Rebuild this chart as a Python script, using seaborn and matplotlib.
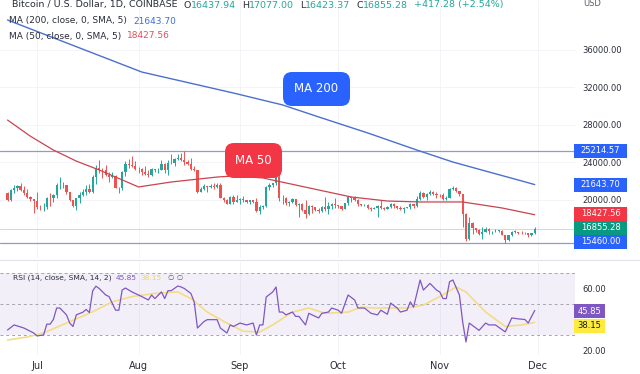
import numpy as np
import pandas as pd
import matplotlib
matplotlib.use("Agg")
import matplotlib.pyplot as plt
from matplotlib.patches import Rectangle, FancyBboxPatch
from matplotlib.transforms import IdentityTransform
from matplotlib.lines import Line2D
import seaborn as sns

# ---------------- data ----------------
START = "2022-06-22"
first_open = 20720.0
closes = [
    19970, 21100, 21230, 21500, 21030, 20730, 20280, 20100, 19930,
    19300, 19250, 19300, 20230, 20200, 20550, 21600, 21600, 21590, 20850, 19970, 19330, 20220, 20580, 20830, 21200,
    20800, 22430, 23400, 23230, 23150, 22680, 22450, 22580, 21310, 21250, 22950, 23850, 23780, 23640, 23300,
    23270, 22990, 22820, 22620, 23310, 23180, 23180, 23810, 23160, 23950, 23940, 24400, 24440, 24300, 24100,
    23850, 23340, 23200, 20830, 21140, 21520, 21400, 21530, 21370, 21570, 20240, 20040, 19550, 20290, 19800, 20050,
    20130, 19950, 19830, 19990, 19800, 18790, 19290, 19320, 21360, 21650, 21830, 22400, 20170, 20230, 19700,
    19800, 20110, 19420, 19540, 18880, 18480, 19400, 19300, 18930, 18800, 19220, 19080, 19410, 19590, 19420,
    19310, 19060, 19630, 20340, 20160, 19960, 19530, 19420, 19450, 19130, 19060, 19160, 19380, 19180, 19070,
    19260, 19550, 19330, 19130, 19040, 19170, 19200, 19570, 19330, 20090, 20770, 20290, 20600, 20820, 20630, 20490,
    20480, 20150, 20210, 21150, 21300, 20920, 20600, 18540, 15880, 17590, 17040, 16800, 16350, 16620, 16900,
    16660, 16690, 16700, 16700, 16280, 15780, 16240, 16600, 16600, 16520, 16460, 16440, 16220, 16437.94, 16855.28,
]
highs = [
    20860, 21200, 21560, 21600, 21860, 21500, 21180, 20400, 20140,
    20880, 19420, 19650, 20300, 20700, 20650, 21820, 22500, 21950, 21600, 20860, 20040, 20260, 20850, 21190, 21580,
    21680, 22700, 23770, 24270, 23440, 23750, 22990, 23020, 22640, 21350, 23080, 24190, 24400, 24650, 24170,
    23490, 23450, 23640, 23220, 23450, 23350, 23380, 24240, 23930, 24220, 24920, 24450, 24890, 25050, 25214.57,
    24240, 24450, 23600, 23210, 21380, 21690, 21520, 21670, 21850, 21800, 21860, 20350, 20150, 20420, 20550, 20480,
    20200, 20440, 20000, 20000, 20050, 20170, 19450, 19460, 21500, 21790, 21850, 22490, 22790, 20500, 20330,
    19880, 20180, 20100, 19690, 19630, 19950, 19500, 19500, 19300, 19190, 19310, 20350, 19780, 19640, 20180,
    19480, 19400, 19700, 20470, 20370, 20450, 20070, 19610, 19520, 19520, 19270, 19230, 19510, 19950, 19230,
    19400, 19670, 19700, 19360, 19340, 19250, 19250, 19690, 19600, 20400, 21000, 20870, 20740, 21080, 20920, 20830,
    20690, 20780, 20390, 21280, 21470, 21370, 20960, 20660, 18590, 18140, 17650, 17060, 16900, 17170, 17120,
    16970, 16730, 16870, 16800, 16750, 16290, 16300, 16700, 16780, 16600, 16680, 16600, 16480, 16530, 17077.00,
]
lows = [
    19900, 19890, 20740, 20950, 20960, 20510, 20200, 19850, 18630,
    19000, 18980, 18790, 19060, 19320, 19780, 20250, 21200, 21330, 20670, 19900, 19250, 18910, 19640, 20390, 20500,
    20770, 20760, 21700, 22910, 22340, 22530, 21950, 22300, 21270, 20710, 21050, 22600, 23450, 23500, 23230,
    22850, 22650, 22700, 22440, 22600, 22940, 22880, 23160, 22870, 22680, 23880, 23610, 24290, 24160, 23780,
    23690, 23190, 23110, 20780, 20800, 21060, 20880, 21240, 21150, 21330, 20160, 19810, 19530, 19600, 19550, 19800,
    19600, 19770, 19660, 19600, 19640, 18690, 18540, 19020, 19290, 21040, 21360, 21560, 19880, 19620, 19500,
    19320, 19700, 19360, 18230, 18780, 18130, 18360, 18620, 18850, 18650, 18680, 18820, 18480, 19000, 19180,
    19170, 18960, 19000, 19500, 19760, 19860, 19350, 19330, 19330, 19060, 18870, 19000, 18190, 19080, 18980,
    19070, 19160, 19100, 19080, 18920, 18660, 19120, 19080, 19160, 19250, 20050, 20210, 20000, 20560, 20530, 20240,
    20370, 20050, 20050, 20180, 21080, 20890, 20400, 17170, 15580, 15740, 16380, 16540, 16250, 15820, 16550,
    16420, 16400, 16560, 16550, 16270, 15460, 15620, 16160, 16460, 16360, 16400, 16400, 16000, 16110, 16423.37,
]

ma200_dates = ["2022-06-22", "2022-07-10", "2022-08-02", "2022-08-14", "2022-08-30", "2022-09-14", "2022-09-25",
               "2022-10-10", "2022-10-25", "2022-11-05", "2022-11-16", "2022-11-25", "2022-11-30"]
ma200_values = [39200, 36760, 33650, 32690, 31410, 30140, 28860, 27150, 25330, 24050, 22990, 22130, 21643.70]

ma50_dates = ["2022-06-22", "2022-06-29", "2022-07-06", "2022-07-13", "2022-07-20", "2022-08-01", "2022-08-11",
              "2022-08-25", "2022-08-30", "2022-09-08", "2022-09-25", "2022-10-05", "2022-10-16", "2022-10-26",
              "2022-11-08", "2022-11-20", "2022-11-30"]
ma50_values = [28530, 26800, 25330, 24150, 23200, 21390, 21920, 22450, 22560, 22350, 21070, 20320, 19890, 19790,
               19790, 19150, 18427.56]

rsi_dates = [
    "06-22", "06-24", "06-27", "06-30", "07-01", "07-03", "07-04", "07-05", "07-06", "07-07",
    "07-08", "07-10", "07-11", "07-12", "07-13", "07-15", "07-16", "07-17", "07-18", "07-19",
    "07-20", "07-22", "07-23", "07-25", "07-26", "07-27", "07-28", "07-30", "08-02", "08-04",
    "08-05", "08-06", "08-08", "08-09", "08-10", "08-11", "08-13", "08-14", "08-15", "08-17",
    "08-18", "08-19", "08-21", "08-22", "08-25", "08-26", "08-28", "08-29", "08-30", "09-01",
    "09-03", "09-05", "09-06", "09-07", "09-08", "09-09", "09-11", "09-12", "09-13", "09-14",
    "09-15", "09-17", "09-18", "09-19", "09-21", "09-22", "09-24", "09-25", "09-26", "09-28",
    "09-29", "10-01", "10-02", "10-04", "10-06", "10-07", "10-09", "10-11", "10-13", "10-14",
    "10-16", "10-17", "10-19", "10-20", "10-22", "10-23", "10-24", "10-26", "10-27", "10-29",
    "10-31", "11-01", "11-02", "11-03", "11-04", "11-05", "11-07", "11-08", "11-09", "11-10",
    "11-13", "11-15", "11-16", "11-18", "11-21", "11-23", "11-25", "11-27", "11-28", "11-30",
]
rsi_values = [
    33.2, 36.5, 34.5, 31.3, 29.4, 30.0, 37.0, 37.0, 40.0, 47.4,
    47.4, 43.0, 37.7, 35.5, 43.0, 44.7, 46.5, 44.5, 58.5, 61.5,
    60.0, 55.8, 54.8, 46.0, 46.0, 59.0, 60.3, 57.8, 54.8, 52.6,
    55.8, 53.5, 57.8, 53.5, 58.6, 58.6, 61.6, 61.0, 60.0, 56.8,
    51.4, 34.5, 38.7, 39.9, 39.9, 34.5, 31.3, 36.5, 35.5, 37.7,
    36.5, 37.7, 30.0, 36.5, 36.5, 54.5, 57.8, 61.0, 44.8, 44.8,
    43.0, 44.8, 42.0, 42.0, 36.5, 44.0, 42.0, 41.0, 44.0, 44.8,
    47.4, 46.0, 44.0, 55.8, 52.6, 47.4, 47.4, 44.0, 43.0, 46.0,
    43.4, 50.6, 47.4, 44.8, 46.0, 51.4, 48.0, 65.5, 59.0, 63.3,
    59.0, 57.8, 53.5, 53.5, 64.4, 65.5, 55.8, 38.4, 25.5, 37.7,
    33.0, 37.7, 36.5, 36.5, 32.0, 41.0, 40.4, 40.0, 37.7, 45.85,
]
rsi_ma_dates = ["06-22", "06-28", "07-03", "07-10", "07-18", "07-24", "07-30", "08-06", "08-13", "08-17",
                "08-22", "08-28", "09-02", "09-07", "09-11", "09-17", "09-22", "09-27", "10-04", "10-08",
                "10-12", "10-17", "10-22", "10-27", "11-01", "11-06", "11-09", "11-15", "11-21", "11-26", "11-30"]
rsi_ma_values = [26.8, 28.7, 31.3, 37.7, 45.0, 51.4, 54.8, 56.8, 57.8, 53.5,
                 44.8, 37.7, 32.4, 32.0, 36.5, 44.8, 47.4, 44.0, 44.8, 48.0,
                 47.4, 47.4, 47.4, 49.3, 54.8, 61.0, 57.8, 44.8, 35.5, 36.5, 38.15]

price_ticks = [20000, 24000, 28000, 32000, 36000]
rsi_ticks = [20, 60]
month_starts = ["2022-07-01", "2022-08-01", "2022-09-01", "2022-10-01", "2022-11-01", "2022-12-01"]
month_labels = ["Jul", "Aug", "Sep", "Oct", "Nov", "Dec"]
level_high = 25214.57
level_low = 15460.00
last_close = 16855.28
rsi_last = 45.85
rsi_ma_last = 38.15

# ---------------- style ----------------
sns.set_theme(style="white")
plt.rcParams["font.family"] = ["DejaVu Sans"]

GREEN = "#26a69a"
RED = "#ef5350"
BLUE = "#2962ff"
TXT = "#2a2e39"
PURPLE = "#7e57c2"

W, H = 640, 374
fig = plt.figure(figsize=(W / 100, H / 100), dpi=100)
fig.patch.set_facecolor("white")


def fy(y):
    return 1 - y / H


ax = fig.add_axes([0, fy(258), 575 / W, 258 / H])
ax2 = fig.add_axes([0, fy(355), 575 / W, (355 - 262) / H])

df = pd.DataFrame({
    "date": pd.date_range(START, periods=len(closes), freq="D"),
    "close": closes, "high": highs, "low": lows,
})
df["open"] = [first_open] + closes[:-1]
up = df["close"] >= df["open"]
cols = np.where(up, GREEN, RED)

x0 = pd.Timestamp("2022-07-01") - pd.Timedelta(days=11.3)
x1 = pd.Timestamp("2022-12-01") + pd.Timedelta(days=11.3)
months = pd.to_datetime(month_starts)

# ---------------- price panel ----------------
ax.vlines(df["date"], df["low"], df["high"], colors=cols, lw=0.7, zorder=3)
body_lo = np.minimum(df["open"], df["close"])
body_h = np.maximum((df["close"] - df["open"]).abs(), 50)
ax.bar(df["date"], body_h, bottom=body_lo, width=0.7, color=cols, lw=0, zorder=4)

sns.lineplot(x=pd.to_datetime(ma200_dates), y=ma200_values, ax=ax, color="#4a6fd0", lw=1.0, zorder=5)
sns.lineplot(x=pd.to_datetime(ma50_dates), y=ma50_values, ax=ax, color="#c8444f", lw=0.9, zorder=5)

ax.axhline(level_high, color="#8d9ccc", lw=0.9, zorder=2)
ax.axhline(level_low, color="#8d9ccc", lw=0.9, zorder=2)
ax.axhline(last_close, color="#d3dbd8", lw=0.8, zorder=2)

ax.set_xlim(x0, x1)
ax.set_ylim(13813, 41333)
ax.set_xticks(months)
ax.set_xticklabels([])
ax.yaxis.tick_right()
ax.set_yticks(price_ticks)
ax.set_yticklabels([f"{v:.2f}" for v in price_ticks])
ax.tick_params(axis="y", labelsize=6, colors=TXT, pad=5.5, length=0)
ax.tick_params(axis="x", length=0)
ax.grid(True, color="#f2f3f7", lw=0.6)
ax.set_xlabel("")
ax.set_ylabel("")
for s in ax.spines.values():
    s.set_visible(False)

# ---------------- RSI panel ----------------
ax2.axhspan(30, 70, color=PURPLE, alpha=0.09, lw=0, zorder=1)
for lvl in (70, 50, 30):
    ax2.axhline(lvl, color="#a3a6af", lw=0.7, ls=(0, (3, 3)), zorder=2)
sns.lineplot(x=pd.to_datetime(["2022-" + d for d in rsi_ma_dates]), y=rsi_ma_values, ax=ax2,
             color="#f4dc86", lw=1.2, zorder=3)
sns.lineplot(x=pd.to_datetime(["2022-" + d for d in rsi_dates]), y=rsi_values, ax=ax2,
             color=PURPLE, lw=0.9, zorder=4)
ax2.set_xlim(x0, x1)
ax2.set_ylim(17.1, 77.1)
ax2.set_xticks(months)
ax2.set_xticklabels(month_labels)
ax2.tick_params(axis="x", labelsize=7, colors=TXT, pad=4.5, length=0)
ax2.yaxis.tick_right()
ax2.set_yticks(rsi_ticks)
ax2.set_yticklabels([f"{v:.2f}" for v in rsi_ticks])
ax2.tick_params(axis="y", labelsize=6, colors=TXT, pad=5.5, length=0)
ax2.grid(True, axis="x", color="#f2f3f7", lw=0.6)
ax2.set_xlabel("")
ax2.set_ylabel("")
for s in ax2.spines.values():
    s.set_visible(False)

# separator
fig.add_artist(Line2D([0, 1], [fy(259.5), fy(259.5)], color="#e0e3eb", lw=0.8))
# hide lower part of the 20.00 label like the reference
fig.add_artist(Rectangle((575 / W, 0), 65 / W, fy(354), transform=fig.transFigure,
                         facecolor="white", edgecolor="none", zorder=1.5))

renderer = fig.canvas.get_renderer()


def rich(x, y, parts, size):
    for s, c, gap in parts:
        t = fig.text(x / W, fy(y), s, color=c, fontsize=size, ha="left", va="center")
        x += t.get_window_extent(renderer).width + gap


rich(12, 5, [("Bitcoin / U.S. Dollar, 1D, COINBASE", TXT, 6),
             ("O", TXT, 0), ("16437.94", GREEN, 6),
             ("H", TXT, 0), ("17077.00", GREEN, 6),
             ("L", TXT, 0), ("16423.37", GREEN, 6),
             ("C", TXT, 0), ("16855.28", GREEN, 6),
             ("+417.28 (+2.54%)", GREEN, 0)], 6.8)
rich(9, 21, [("MA (200, close, 0, SMA, 5)", TXT, 6), (f"{ma200_values[-1]:.2f}", "#3a6fd8", 0)], 6.5)
rich(9, 36, [("MA (50, close, 0, SMA, 5)", TXT, 6), (f"{ma50_values[-1]:.2f}", "#e0505a", 0)], 6.5)
rich(13, 278, [("RSI (14, close, SMA, 14, 2)", TXT, 4), (f"{rsi_last:.2f}", PURPLE, 4),
               (f"{rsi_ma_last:.2f}", "#f1d75a", 6), ("\u2205 \u2205", "#555a66", 0)], 5.4)

fig.text(583 / W, fy(4), "USD", fontsize=6, color="#555a66", ha="left", va="center")


def scale_box(y_c, text, fc, tc="white", h=14):
    fig.add_artist(Rectangle((574, H - y_c - h / 2), 53, h, transform=IdentityTransform(),
                             facecolor=fc, edgecolor="none", zorder=3))
    fig.text(600.5 / W, fy(y_c), text, fontsize=6, color=tc, ha="center", va="center", zorder=4)


scale_box(150.5, f"{level_high:.2f}", BLUE)
scale_box(184.5, f"{ma200_values[-1]:.2f}", BLUE)
scale_box(214, f"{ma50_values[-1]:.2f}", "#f23645")
scale_box(228, f"{last_close:.2f}", "#089981")
scale_box(242, f"{level_low:.2f}", BLUE)
fig.add_artist(Rectangle((574, H - 318), 31, 14, transform=IdentityTransform(),
                         facecolor=PURPLE, edgecolor="none", zorder=3))
fig.text(589.5 / W, fy(311), f"{rsi_last:.2f}", fontsize=6, color="white", ha="center", va="center", zorder=4)
fig.add_artist(Rectangle((574, H - 333), 31, 14, transform=IdentityTransform(),
                         facecolor="#ffeb3b", edgecolor="none", zorder=3))
fig.text(589.5 / W, fy(326), f"{rsi_ma_last:.2f}", fontsize=6, color="#131722", ha="center", va="center", zorder=4)


def callout(x0p, y0p, x1p, y1p, text, fc):
    fig.add_artist(FancyBboxPatch((x0p, H - y1p), x1p - x0p, y1p - y0p,
                                  boxstyle="round,pad=0,rounding_size=9", transform=IdentityTransform(),
                                  facecolor=fc, edgecolor="none", zorder=3))
    fig.text((x0p + x1p) / 2 / W, fy((y0p + y1p) / 2), text, fontsize=8.5, color="white",
             ha="center", va="center", zorder=4)


callout(283, 72, 350, 106, "MA 200", BLUE)
callout(225, 143, 282, 178, "MA 50", "#f23645")

fig.savefig("out.png", dpi=100, facecolor="white")
